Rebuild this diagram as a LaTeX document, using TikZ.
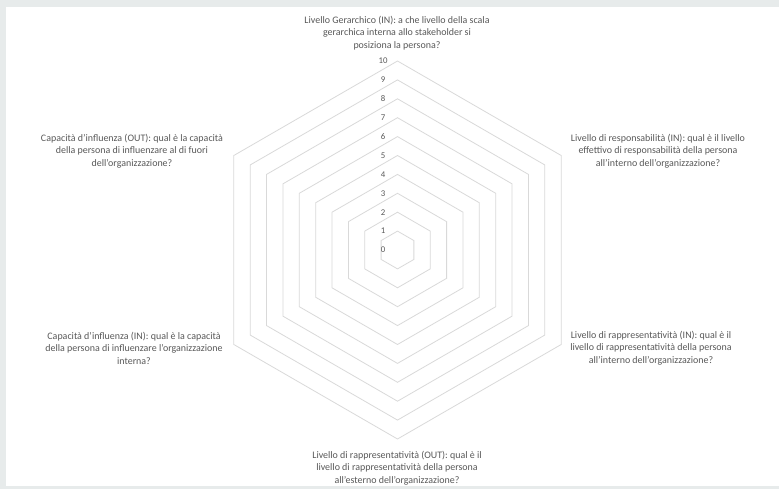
\documentclass[tikz,border=0pt]{standalone}
\usepackage{fontspec}
\setmainfont{Carlito}
\definecolor{bggray}{HTML}{E7EBEB}
\definecolor{gridgray}{HTML}{D9D9D9}
\definecolor{txtgray}{HTML}{595959}
\begin{document}
\begin{tikzpicture}[x=1bp,y=-1bp,
  catlabel/.style={align=center,text=txtgray,font=\fontsize{10}{12.5}\selectfont,inner sep=0pt},
  ticklabel/.style={text=txtgray,font=\fontsize{8.8}{10}\selectfont,inner sep=0pt},
  ring/.style={draw=gridgray,line width=0.8bp,line join=miter}]
\useasboundingbox (0,0) rectangle (779,489);
\fill[bggray] (0,0) rectangle (779,489);
\fill[white] (6,7) rectangle (779,486);
% rings
\foreach \k in {1,...,10}{
  \pgfmathsetmacro{\r}{18.9*\k}
  \draw[ring] ({397.5+\r*cos(90)},{250-\r*sin(90)})
    -- ({397.5+\r*cos(30)},{250-\r*sin(30)})
    -- ({397.5+\r*cos(-30)},{250-\r*sin(-30)})
    -- ({397.5+\r*cos(-90)},{250-\r*sin(-90)})
    -- ({397.5+\r*cos(-150)},{250-\r*sin(-150)})
    -- ({397.5+\r*cos(150)},{250-\r*sin(150)}) -- cycle;
}
% tick labels
\foreach \k in {0,...,10}{
  \node[ticklabel] (t\k) at (383,{250-18.9*\k}) {\k};
}
% category labels
\node[catlabel] (c1) at (397,33) {Livello Gerarchico (IN): a che livello della scala\\gerarchica interna allo stakeholder si\\posiziona la persona?};
\node[catlabel] (c2) at (658,151) {Livello di responsabilità (IN): qual è il livello\\effettivo di responsabilità della persona\\all'interno dell'organizzazione?};
\node[catlabel] (c3) at (651,348) {Livello di rappresentatività (IN): qual è il\\livello di rappresentatività della persona\\all'interno dell'organizzazione?};
\node[catlabel] (c4) at (397,468) {Livello di rappresentatività (OUT): qual è il\\livello di rappresentatività della persona\\all'esterno dell'organizzazione?};
\node[catlabel] (c5) at (134,348) {Capacità d'influenza (IN): qual è la capacità\\della persona di influenzare l'organizzazione\\interna?};
\node[catlabel] (c6) at (132,151) {Capacità d'influenza (OUT): qual è la capacità\\della persona di influenzare al di fuori\\dell'organizzazione?};
\end{tikzpicture}
\end{document}
